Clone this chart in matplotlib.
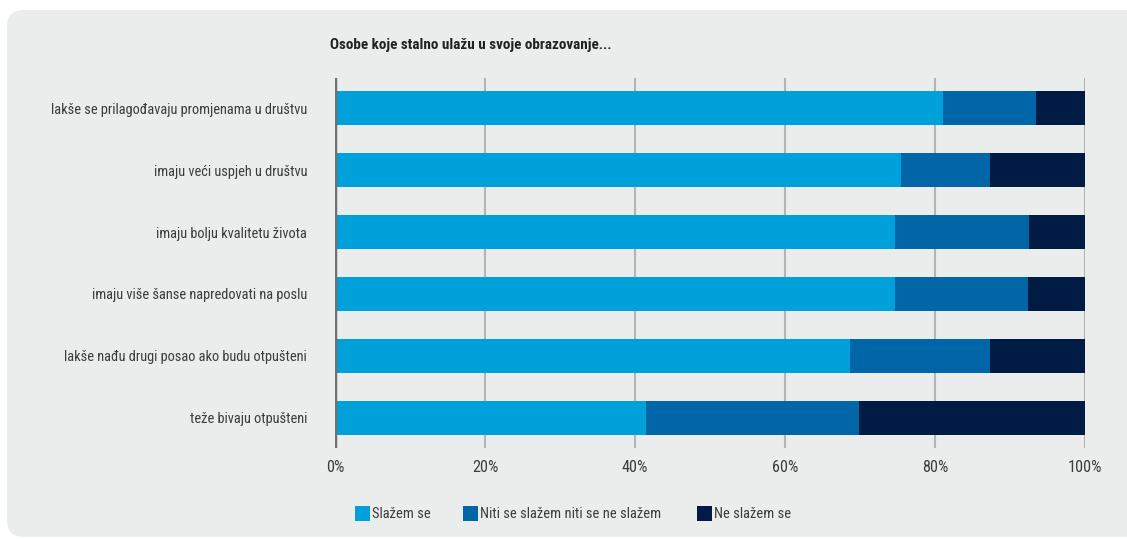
import matplotlib
matplotlib.use("Agg")
import matplotlib.pyplot as plt
from matplotlib.patches import FancyBboxPatch, Rectangle
from matplotlib import font_manager
import numpy as np

categories = [
    "lakše se prilagođavaju promjenama u društvu",
    "imaju veći uspjeh u društvu",
    "imaju bolju kvalitetu života",
    "imaju više šanse napredovati na poslu",
    "lakše nađu drugi posao ako budu otpušteni",
    "teže bivaju otpušteni",
]
slazem = [81.1, 75.5, 74.7, 74.7, 68.7, 41.5]
niti = [12.4, 11.8, 17.8, 17.7, 18.6, 28.4]
ne_slazem = [6.5, 12.7, 7.5, 7.6, 12.7, 30.1]
series_names = ["Slažem se", "Niti se slažem niti se ne slažem", "Ne slažem se"]
colors = ["#00A0DA", "#0066A8", "#001B44"]
xticks = [0, 20, 40, 60, 80, 100]
xticklabels = ["0%", "20%", "40%", "60%", "80%", "100%"]
title = "Osobe koje stalno ulažu u svoje obrazovanje..."

names = {f.name for f in font_manager.fontManager.ttflist}
cands = ["Roboto Condensed", "Archivo Narrow", "PT Sans Narrow", "Liberation Sans Narrow",
         "Open Sans Condensed", "IBM Plex Sans Condensed", "Pragati Narrow", "DejaVu Sans"]
fam = next(c for c in cands if c in names)
plt.rcParams["font.family"] = [fam, "DejaVu Sans"]

W, H = 1127, 539
fig = plt.figure(figsize=(W / 100, H / 100), dpi=100)
fig.patch.set_facecolor("white")
renderer = fig.canvas.get_renderer()


def fit_size(text, target_px, weight="normal"):
    t = fig.text(0, 0, text, fontsize=10, fontweight=weight)
    w = t.get_window_extent(renderer).width
    t.remove()
    return 10 * target_px / w


lab_fs = fit_size(categories[0], 257)
tick_fs = fit_size("100%", 34)
leg_fs = fit_size(series_names[1], 178)
title_fs = fit_size(title, 282, "bold")

bg = "#EBECEC"
box = FancyBboxPatch((7 / W, 2 / H), (W + 40) / W, (H - 12) / H,
                     boxstyle="round,pad=0,rounding_size=0.015",
                     transform=fig.transFigure, facecolor=bg, edgecolor="none",
                     mutation_aspect=W / H, zorder=0)
fig.add_artist(box)

ax = fig.add_axes([335 / W, 1 - 448 / H, 750 / W, 370 / H])
ax.set_facecolor("none")
y = np.arange(len(categories))
left = np.zeros(len(categories))
for vals, c in zip([slazem, niti, ne_slazem], colors):
    ax.barh(y, vals, left=left, height=0.55, color=c, zorder=3)
    left = left + np.array(vals)

ax.set_xlim(0, 100)
ax.set_ylim(len(categories) - 0.516, -0.484)
ax.set_xticks(xticks)
ax.set_xticklabels(xticklabels, fontsize=tick_fs)
ax.set_yticks(y)
ax.set_yticklabels(categories, fontsize=lab_fs)
for s in ax.spines.values():
    s.set_visible(False)
ax.tick_params(axis="both", length=0, colors="#3C3C3C")
ax.tick_params(axis="x", pad=9)
ax.tick_params(axis="y", pad=20)
for xv in xticks[1:]:
    ax.axvline(xv, color="#B4B4B4", lw=1.5, zorder=1)
ax.axvline(0, color="#707070", lw=2.5, zorder=4)

fig.text(330 / W, 1 - 45 / H, title, fontsize=title_fs, fontweight="bold",
         color="#222222", va="center", ha="left")

leg_x = [355, 463, 697]
for lx, name, c in zip(leg_x, series_names, colors):
    fig.add_artist(Rectangle((lx / W, 1 - 521 / H), 15 / W, 15 / H,
                             transform=fig.transFigure, facecolor=c, edgecolor="none"))
    fig.text((lx + 17) / W, 1 - 514 / H, name, fontsize=leg_fs, color="#3C3C3C",
             va="center", ha="left")

fig.savefig("out.png", dpi=100, facecolor="white")
